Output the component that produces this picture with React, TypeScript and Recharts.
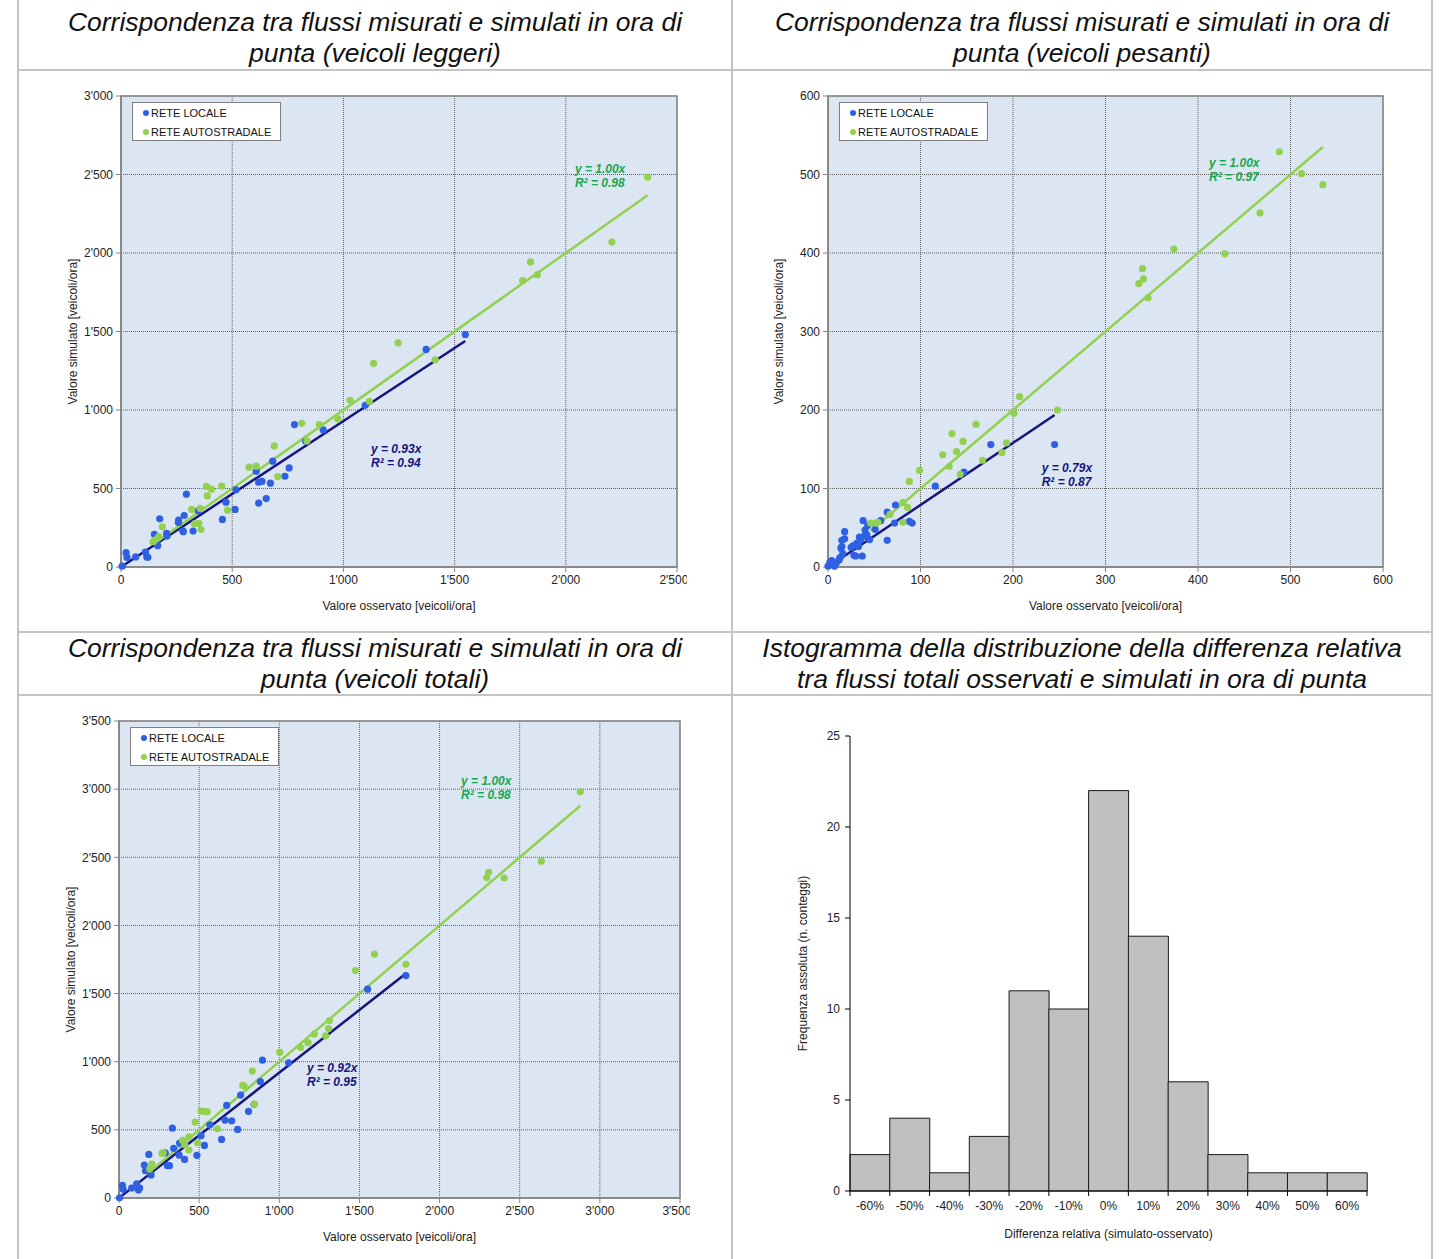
import React from "react";
import {
  ScatterChart,
  Scatter,
  XAxis,
  YAxis,
  CartesianGrid,
  ReferenceLine,
  ReferenceArea,
  ReferenceDot,
  Legend,
  BarChart,
  Bar,
} from "recharts";

const FONT = "Arial, 'Liberation Sans', sans-serif";
const BLUE = "#2f5fe3";
const GREEN = "#92d050";
const NAVY = "#15157f";
const EQ_GREEN = "#14a850";
const PLOT_BG = "#dce6f2";
const AXIS_GRAY = "#858585";

// --- veicoli leggeri ---
const leggeriLocale = [
  { x: 5, y: 5 }, { x: 23, y: 91 }, { x: 27, y: 61 }, { x: 66, y: 64 }, { x: 110, y: 95 },
  { x: 116, y: 64 }, { x: 121, y: 62 }, { x: 150, y: 208 }, { x: 165, y: 136 }, { x: 174, y: 307 },
  { x: 205, y: 214 }, { x: 207, y: 197 }, { x: 258, y: 284 }, { x: 259, y: 299 }, { x: 278, y: 231 },
  { x: 280, y: 225 }, { x: 284, y: 328 }, { x: 294, y: 464 }, { x: 324, y: 229 }, { x: 347, y: 358 },
  { x: 456, y: 303 }, { x: 472, y: 413 }, { x: 513, y: 367 }, { x: 517, y: 492 }, { x: 608, y: 610 },
  { x: 619, y: 407 }, { x: 619, y: 540 }, { x: 634, y: 545 }, { x: 653, y: 436 }, { x: 672, y: 534 },
  { x: 682, y: 674 }, { x: 737, y: 578 }, { x: 756, y: 631 }, { x: 780, y: 907 }, { x: 830, y: 801 },
  { x: 909, y: 873 }, { x: 1098, y: 1030 }, { x: 1372, y: 1386 }, { x: 1548, y: 1481 },
];
const leggeriAuto = [
  { x: 144, y: 161 }, { x: 152, y: 172 }, { x: 167, y: 186 }, { x: 170, y: 193 }, { x: 186, y: 256 },
  { x: 318, y: 367 }, { x: 330, y: 275 }, { x: 350, y: 278 }, { x: 356, y: 373 }, { x: 360, y: 239 },
  { x: 384, y: 513 }, { x: 388, y: 453 }, { x: 407, y: 496 }, { x: 453, y: 515 }, { x: 479, y: 362 },
  { x: 576, y: 636 }, { x: 608, y: 642 }, { x: 689, y: 771 }, { x: 705, y: 576 }, { x: 813, y: 915 },
  { x: 836, y: 803 }, { x: 892, y: 907 }, { x: 975, y: 943 }, { x: 1030, y: 1062 }, { x: 1117, y: 1055 },
  { x: 1136, y: 1297 }, { x: 1246, y: 1427 }, { x: 1413, y: 1320 }, { x: 1806, y: 1824 }, { x: 1841, y: 1943 },
  { x: 1872, y: 1862 }, { x: 2207, y: 2070 }, { x: 2368, y: 2483 },
];

// --- veicoli pesanti ---
const pesantiLocale = [
  { x: 0, y: 1 }, { x: 2, y: 6 }, { x: 4, y: 8 }, { x: 7, y: 1 }, { x: 9, y: 5 }, { x: 12, y: 9 },
  { x: 13, y: 12 }, { x: 14, y: 24 }, { x: 15, y: 26 }, { x: 15, y: 34 }, { x: 16, y: 17 }, { x: 18, y: 45 },
  { x: 18, y: 36 }, { x: 25, y: 25 }, { x: 27, y: 27 }, { x: 28, y: 15 }, { x: 30, y: 14 }, { x: 31, y: 30 },
  { x: 33, y: 26 }, { x: 34, y: 38 }, { x: 35, y: 34 }, { x: 37, y: 14 }, { x: 38, y: 59 }, { x: 39, y: 39 },
  { x: 40, y: 47 }, { x: 42, y: 41 }, { x: 43, y: 53 }, { x: 45, y: 35 }, { x: 51, y: 48 }, { x: 57, y: 59 },
  { x: 64, y: 70 }, { x: 64, y: 34 }, { x: 72, y: 56 }, { x: 73, y: 79 }, { x: 88, y: 58 }, { x: 91, y: 56 },
  { x: 116, y: 103 }, { x: 147, y: 121 }, { x: 176, y: 156 }, { x: 245, y: 156 },
];
const pesantiAuto = [
  { x: 46, y: 56 }, { x: 52, y: 56 }, { x: 54, y: 57 }, { x: 67, y: 67 }, { x: 81, y: 82 }, { x: 81, y: 57 },
  { x: 86, y: 76 }, { x: 88, y: 109 }, { x: 99, y: 123 }, { x: 124, y: 143 }, { x: 131, y: 128 },
  { x: 134, y: 170 }, { x: 139, y: 147 }, { x: 143, y: 118 }, { x: 146, y: 160 }, { x: 160, y: 182 },
  { x: 167, y: 136 }, { x: 188, y: 146 }, { x: 193, y: 158 }, { x: 201, y: 196 }, { x: 207, y: 217 },
  { x: 248, y: 200 }, { x: 336, y: 361 }, { x: 341, y: 367 }, { x: 340, y: 380 }, { x: 346, y: 343 },
  { x: 374, y: 405 }, { x: 429, y: 399 }, { x: 467, y: 451 }, { x: 488, y: 529 }, { x: 512, y: 501 },
  { x: 535, y: 487 },
];

// --- veicoli totali ---
const totaliLocale = [
  { x: 3, y: 2 }, { x: 21, y: 93 }, { x: 26, y: 64 }, { x: 79, y: 73 }, { x: 110, y: 103 }, { x: 121, y: 59 },
  { x: 129, y: 73 }, { x: 158, y: 242 }, { x: 165, y: 200 }, { x: 186, y: 320 }, { x: 200, y: 169 },
  { x: 289, y: 332 }, { x: 302, y: 237 }, { x: 315, y: 237 }, { x: 333, y: 513 }, { x: 341, y: 364 },
  { x: 378, y: 403 }, { x: 375, y: 315 }, { x: 409, y: 283 }, { x: 486, y: 313 }, { x: 512, y: 457 },
  { x: 533, y: 386 }, { x: 567, y: 537 }, { x: 640, y: 430 }, { x: 661, y: 572 }, { x: 672, y: 679 },
  { x: 703, y: 567 }, { x: 740, y: 503 }, { x: 759, y: 755 }, { x: 808, y: 635 }, { x: 843, y: 687 },
  { x: 882, y: 855 }, { x: 895, y: 1011 }, { x: 1058, y: 992 }, { x: 1551, y: 1532 }, { x: 1790, y: 1632 },
];
const totaliAuto = [
  { x: 192, y: 213 }, { x: 205, y: 249 }, { x: 268, y: 327 }, { x: 276, y: 332 }, { x: 396, y: 423 },
  { x: 409, y: 393 }, { x: 436, y: 449 }, { x: 436, y: 352 }, { x: 475, y: 557 }, { x: 491, y: 405 },
  { x: 512, y: 638 }, { x: 533, y: 635 }, { x: 551, y: 633 }, { x: 614, y: 508 }, { x: 772, y: 826 },
  { x: 780, y: 821 }, { x: 832, y: 931 }, { x: 845, y: 689 }, { x: 1003, y: 1070 }, { x: 1134, y: 1104 },
  { x: 1179, y: 1140 }, { x: 1218, y: 1202 }, { x: 1289, y: 1190 }, { x: 1307, y: 1243 }, { x: 1313, y: 1302 },
  { x: 1475, y: 1669 }, { x: 1594, y: 1790 }, { x: 1790, y: 1715 }, { x: 2294, y: 2351 }, { x: 2306, y: 2390 },
  { x: 2403, y: 2348 }, { x: 2635, y: 2471 }, { x: 2878, y: 2980 },
];

const leggeriTicksX = [0, 500, 1000, 1500, 2000, 2500];
const leggeriTicksY = [0, 500, 1000, 1500, 2000, 2500, 3000];
const pesantiTicks = [0, 100, 200, 300, 400, 500, 600];
const totaliTicks = [0, 500, 1000, 1500, 2000, 2500, 3000, 3500];

const seriesNames = ["RETE LOCALE", "RETE AUTOSTRADALE"];

// slope, R² of each trendline: [locale, autostradale]
const leggeriFit = [[0.93, 0.94], [1.0, 0.98]];
const pesantiFit = [[0.79, 0.87], [1.0, 0.97]];
const totaliFit = [[0.92, 0.95], [1.0, 0.98]];

// histogram
const histBins = ["-60%", "-50%", "-40%", "-30%", "-20%", "-10%", "0%", "10%", "20%", "30%", "40%", "50%", "60%"];
const histCounts = [2, 4, 1, 3, 11, 10, 22, 14, 6, 2, 1, 1, 1];
const histTicks = [0, 5, 10, 15, 20, 25];

type Pt = { x: number; y: number };

const fmtK = (v: number) =>
  v >= 1000 ? `${Math.floor(v / 1000)}'${String(v % 1000).padStart(3, "0")}` : `${v}`;

const tickStyle = { fontSize: 12, fill: "#222", fontFamily: FONT };

function Dot(color: string) {
  return (p: any) => <circle cx={p.cx} cy={p.cy} r={3.6} fill={color} />;
}

function eqShape(slope: number, r2: number, color: string) {
  return (p: any) => (
    <text
      x={p.cx}
      y={p.cy}
      fill={color}
      fontSize={12}
      fontWeight="bold"
      fontStyle="italic"
      fontFamily={FONT}
    >
      <tspan x={p.cx} dy="0.35em">{`y = ${slope.toFixed(2)}x`}</tspan>
      <tspan x={p.cx} dy={14}>{`R² = ${r2.toFixed(2)}`}</tspan>
    </text>
  );
}

function SeriesLegend({ payload }: any) {
  const items = [...(payload ?? [])].sort(
    (a: any, b: any) => seriesNames.indexOf(a.value) - seriesNames.indexOf(b.value)
  );
  return (
    <div
      style={{
        width: 147,
        height: 37,
        background: "#fff",
        border: "1px solid #7f7f7f",
        fontFamily: FONT,
        fontSize: 11,
        color: "#111",
      }}
    >
      {items.map((e: any) => (
        <div key={e.value} style={{ height: 19, display: "flex", alignItems: "center", paddingLeft: 10 }}>
          <span
            style={{
              display: "inline-block",
              width: 6,
              height: 6,
              borderRadius: 3,
              background: e.color,
              marginRight: 2,
            }}
          />
          {e.value}
        </div>
      ))}
    </div>
  );
}

interface ScatterPanelProps {
  left: number;
  top: number;
  width: number;
  height: number;
  locale: Pt[];
  auto: Pt[];
  fit: number[][];
  xTicks: number[];
  yTicks: number[];
  eqLocale: Pt;
  eqAuto: Pt;
  yLabelOffset: number;
}

function ScatterPanel(p: ScatterPanelProps) {
  const xMax = p.xTicks[p.xTicks.length - 1];
  const yMax = p.yTicks[p.yTicks.length - 1];
  const seg = (data: Pt[], slope: number) => {
    const xs = data.map((d) => d.x);
    const a = Math.min(...xs);
    const b = Math.max(...xs);
    return [
      { x: a, y: a * slope },
      { x: b, y: b * slope },
    ];
  };
  return (
    <div style={{ position: "absolute", left: p.left, top: p.top }}>
      <ScatterChart
        width={p.width}
        height={p.height}
        margin={{ top: 10, right: 10, bottom: 20, left: 10 }}
      >
        <CartesianGrid stroke="#5a5a5a" strokeDasharray="1 1" fill={PLOT_BG} fillOpacity={1} />
        <XAxis
          type="number"
          dataKey="x"
          domain={[0, xMax]}
          ticks={p.xTicks}
          tickFormatter={fmtK}
          height={30}
          tick={tickStyle}
          tickSize={5}
          tickMargin={3}
          axisLine={{ stroke: AXIS_GRAY, strokeWidth: 1.5 }}
          tickLine={{ stroke: AXIS_GRAY }}
          label={{
            value: "Valore osservato [veicoli/ora]",
            position: "bottom",
            offset: 4,
            style: { fontSize: 12, fill: "#222", fontFamily: FONT },
          }}
        />
        <YAxis
          type="number"
          dataKey="y"
          domain={[0, yMax]}
          ticks={p.yTicks}
          tickFormatter={fmtK}
          width={50}
          tick={tickStyle}
          tickSize={5}
          tickMargin={3}
          axisLine={{ stroke: AXIS_GRAY, strokeWidth: 1.5 }}
          tickLine={{ stroke: AXIS_GRAY }}
          label={{
            value: "Valore simulato [veicoli/ora]",
            angle: -90,
            position: "insideLeft",
            offset: p.yLabelOffset,
            style: { textAnchor: "middle", fontSize: 12, fill: "#222", fontFamily: FONT },
          }}
        />
        <ReferenceArea x1={0} x2={xMax} y1={0} y2={yMax} fill="none" stroke={AXIS_GRAY} strokeWidth={1.5} />
        <Scatter
          name={seriesNames[0]}
          data={p.locale}
          fill={BLUE}
          shape={Dot(BLUE)}
          isAnimationActive={false}
        />
        <Scatter
          name={seriesNames[1]}
          data={p.auto}
          fill={GREEN}
          shape={Dot(GREEN)}
          isAnimationActive={false}
        />
        <ReferenceLine segment={seg(p.locale, p.fit[0][0])} stroke={NAVY} strokeWidth={2.5} />
        <ReferenceLine segment={seg(p.auto, p.fit[1][0])} stroke={GREEN} strokeWidth={2.5} />
        <ReferenceDot
          x={p.eqLocale.x}
          y={p.eqLocale.y}
          r={0}
          shape={eqShape(p.fit[0][0], p.fit[0][1], NAVY)}
        />
        <ReferenceDot
          x={p.eqAuto.x}
          y={p.eqAuto.y}
          r={0}
          shape={eqShape(p.fit[1][0], p.fit[1][1], EQ_GREEN)}
        />
        <Legend
          verticalAlign="middle"
          layout="horizontal"
          content={<SeriesLegend />}
          wrapperStyle={{ left: 71, top: 16, width: "auto", height: "auto" }}
        />
      </ScatterChart>
    </div>
  );
}

function HistTick(props: any) {
  const { x, y, payload, index } = props;
  const half = payload.offset ?? 0;
  const axisY = y - 8;
  return (
    <g>
      <line x1={x - half} y1={axisY} x2={x - half} y2={axisY + 5} stroke="#000" />
      {index === histBins.length - 1 && (
        <line x1={x + half} y1={axisY} x2={x + half} y2={axisY + 5} stroke="#000" />
      )}
      <text
        x={x}
        y={axisY + 15}
        dy="0.35em"
        textAnchor="middle"
        fontSize={12}
        fill="#222"
        fontFamily={FONT}
      >
        {payload.value}
      </text>
    </g>
  );
}

function Histogram() {
  const data = histBins.map((b, i) => ({ bin: b, count: histCounts[i] }));
  return (
    <div style={{ position: "absolute", left: 790, top: 726 }}>
      <BarChart
        width={587}
        height={515}
        data={data}
        margin={{ top: 10, right: 10, bottom: 20, left: 10 }}
        barCategoryGap={0}
      >
        <XAxis
          dataKey="bin"
          height={30}
          interval={0}
          tickLine={false}
          axisLine={{ stroke: "#000" }}
          tick={<HistTick />}
          label={{
            value: "Differenza relativa (simulato-osservato)",
            position: "bottom",
            offset: 8,
            style: { fontSize: 12, fill: "#222", fontFamily: FONT },
          }}
        />
        <YAxis
          width={50}
          domain={[0, 25]}
          ticks={histTicks}
          tick={tickStyle}
          tickSize={5}
          tickMargin={5}
          axisLine={{ stroke: "#000" }}
          tickLine={{ stroke: "#000" }}
          label={{
            value: "Frequenza assoluta (n. conteggi)",
            angle: -90,
            position: "insideLeft",
            offset: 3,
            style: { textAnchor: "middle", fontSize: 12, fill: "#222", fontFamily: FONT },
          }}
        />
        <Bar dataKey="count" fill="#c0c0c0" stroke="#1a1a1a" strokeWidth={1} isAnimationActive={false} />
      </BarChart>
    </div>
  );
}

const titleStyle: React.CSSProperties = {
  position: "absolute",
  textAlign: "center",
  fontFamily: FONT,
  fontStyle: "italic",
  fontSize: 26.5,
  lineHeight: "31px",
  color: "#111",
  whiteSpace: "nowrap",
};

const lineColor = "#c4c4c4";

export default function App() {
  return (
    <div style={{ position: "absolute", left: 0, top: 0, width: 1444, height: 1259, background: "#fff" }}>
      {/* table rules */}
      <div style={{ position: "absolute", left: 17, top: 0, width: 2, height: 1259, background: lineColor }} />
      <div style={{ position: "absolute", left: 731, top: 0, width: 2, height: 1259, background: lineColor }} />
      <div style={{ position: "absolute", left: 1431, top: 0, width: 2, height: 1259, background: lineColor }} />
      <div style={{ position: "absolute", left: 17, top: 69, width: 1416, height: 2, background: lineColor }} />
      <div style={{ position: "absolute", left: 17, top: 631, width: 1416, height: 2, background: lineColor }} />
      <div style={{ position: "absolute", left: 17, top: 694, width: 1416, height: 2, background: lineColor }} />

      <div style={{ ...titleStyle, left: 19, top: 7, width: 712 }}>
        Corrispondenza tra flussi misurati e simulati in ora di
        <br />
        punta (veicoli leggeri)
      </div>
      <div style={{ ...titleStyle, left: 733, top: 7, width: 698 }}>
        Corrispondenza tra flussi misurati e simulati in ora di
        <br />
        punta (veicoli pesanti)
      </div>
      <div style={{ ...titleStyle, left: 19, top: 633, width: 712 }}>
        Corrispondenza tra flussi misurati e simulati in ora di
        <br />
        punta (veicoli totali)
      </div>
      <div style={{ ...titleStyle, left: 733, top: 633, width: 698 }}>
        Istogramma della distribuzione della differenza relativa
        <br />
        tra flussi totali osservati e simulati in ora di punta
      </div>

      <ScatterPanel
        left={61}
        top={86}
        width={626}
        height={531}
        locale={leggeriLocale}
        auto={leggeriAuto}
        fit={leggeriFit}
        xTicks={leggeriTicksX}
        yTicks={leggeriTicksY}
        eqLocale={{ x: 1124, y: 752 }}
        eqAuto={{ x: 2041, y: 2535 }}
        yLabelOffset={2}
      />
      <ScatterPanel
        left={768}
        top={86}
        width={625}
        height={531}
        locale={pesantiLocale}
        auto={pesantiAuto}
        fit={pesantiFit}
        xTicks={pesantiTicks}
        yTicks={pesantiTicks}
        eqLocale={{ x: 231, y: 127 }}
        eqAuto={{ x: 412, y: 515 }}
        yLabelOffset={1}
      />
      <ScatterPanel
        left={59}
        top={711}
        width={631}
        height={537}
        locale={totaliLocale}
        auto={totaliAuto}
        fit={totaliFit}
        xTicks={totaliTicks}
        yTicks={totaliTicks}
        eqLocale={{ x: 1173, y: 954 }}
        eqAuto={{ x: 2134, y: 3060 }}
        yLabelOffset={2}
      />
      <Histogram />
    </div>
  );
}
